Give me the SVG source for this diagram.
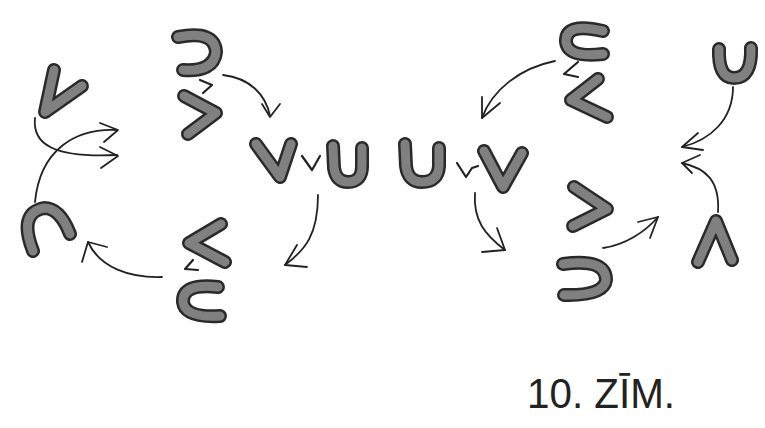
<svg xmlns="http://www.w3.org/2000/svg" width="765" height="428" viewBox="0 0 765 428">
<style>
.o{fill:none;stroke:#2a2a2a;stroke-width:14;stroke-linecap:round;stroke-linejoin:round}
.i{fill:none;stroke:#808080;stroke-width:9;stroke-linecap:round;stroke-linejoin:round}
.m{fill:none;stroke:#222;stroke-width:2.2;stroke-linecap:round;stroke-linejoin:round}
.a{fill:none;stroke:#222;stroke-width:1.8;stroke-linecap:round;stroke-linejoin:round}
.t{font-family:"Liberation Sans",Arial,sans-serif;font-size:42px;fill:#222}
</style>
<defs>
<path id="vl" d="M54,70 L45,112 L82,86"/>
<path id="sup1" d="M178,37 Q215,30 216,52 Q214,72 183,70"/>
<path id="gt1" d="M184,96 L216,113 L188,134"/>
<path id="vc" d="M256,144 L280,177 L291,144"/>
<path id="uc" d="M333,146 L334,168 Q336,182 348,182 Q362,182 362,166 L362,148"/>
<path id="ur" d="M405,144 L406,166 Q408,182 422,182 Q438,182 439,166 L439,148"/>
<path id="vr" d="M484,151 L503,187 L522,153"/>
<path id="ctr" d="M603,31 Q565,22 566,42 Q568,58 603,54"/>
<path id="ltr" d="M598,79 L571,100 L607,117"/>
<path id="ufr" d="M719,49 Q718,78 734,78 Q752,78 751,48"/>
<path id="cap" d="M698,262 L716,221 L732,260"/>
<path id="gtr" d="M574,187 L607,209 L573,226"/>
<path id="supb" d="M563,264 Q606,258 606,280 Q604,296 564,295"/>
<path id="cl" d="M33,251 Q18,213 44,208 Q60,208 70,234"/>
<path id="ltl" d="M221,224 L189,243 L225,262"/>
<path id="clb" d="M218,287 Q182,283 183,302 Q185,318 220,316"/>
</defs>
<g id="n-v-left"><use href="#vl" class="o"/><use href="#vl" class="i"/></g>
<g id="n-sup-top"><use href="#sup1" class="o"/><use href="#sup1" class="i"/><path class="m" d="M200,80 L212,85 L203,93"/><use href="#gt1" class="o"/><use href="#gt1" class="i"/></g>
<g id="n-vvu"><use href="#vc" class="o"/><use href="#vc" class="i"/><path class="m" d="M302,156 L312,170 L320,156"/><use href="#uc" class="o"/><use href="#uc" class="i"/></g>
<g id="n-uvv"><use href="#ur" class="o"/><use href="#ur" class="i"/><path class="m" d="M457,163 L466,177 L472,168 L478,166"/><use href="#vr" class="o"/><use href="#vr" class="i"/></g>
<g id="n-c-top-right"><use href="#ctr" class="o"/><use href="#ctr" class="i"/><path class="m" d="M578,62 L564,74 L578,77"/><use href="#ltr" class="o"/><use href="#ltr" class="i"/></g>
<g id="n-u-far-right"><use href="#ufr" class="o"/><use href="#ufr" class="i"/></g>
<g id="n-caret"><use href="#cap" class="o"/><use href="#cap" class="i"/></g>
<g id="n-gt-sup-bottom"><use href="#gtr" class="o"/><use href="#gtr" class="i"/><use href="#supb" class="o"/><use href="#supb" class="i"/></g>
<g id="n-c-left"><use href="#cl" class="o"/><use href="#cl" class="i"/></g>
<g id="n-lt-c-left"><use href="#ltl" class="o"/><use href="#ltl" class="i"/><path class="m" d="M193,260 L185,269 L198,270"/><use href="#clb" class="o"/><use href="#clb" class="i"/></g>
<g id="connectors">
<path class="a" d="M35,118 C32,145 55,158 117,155"/><path class="a" d="M100,147 L118,156 L101,168"/>
<path class="a" d="M35,202 C40,150 75,128 117,130"/><path class="a" d="M100,123 L118,130 L104,142"/>
<path class="a" d="M223,75 C250,78 266,95 270,116"/><path class="a" d="M262,104 L270,117 L280,104"/>
<path class="a" d="M318,195 C318,235 305,250 285,265"/><path class="a" d="M297,245 L285,265 L307,267"/>
<path class="a" d="M162,277 C130,278 100,268 88,242"/><path class="a" d="M107,247 L88,242 L82,262"/>
<path class="a" d="M555,61 C520,68 492,90 482,118"/><path class="a" d="M482,97 L482,118 L500,103"/>
<path class="a" d="M475,193 C473,220 485,235 505,250"/><path class="a" d="M497,228 L505,250 L482,252"/>
<path class="a" d="M603,248 C625,245 645,232 658,217"/><path class="a" d="M638,222 L658,217 L650,238"/>
<path class="a" d="M733,87 C733,120 710,140 682,147"/><path class="a" d="M698,133 L682,147 L703,150"/>
<path class="a" d="M718,212 C720,180 705,168 682,163"/><path class="a" d="M700,155 L682,163 L692,173"/>
</g>
<text class="t" x="527" y="408" textLength="148" lengthAdjust="spacingAndGlyphs">10. ZĪM.</text>
</svg>
